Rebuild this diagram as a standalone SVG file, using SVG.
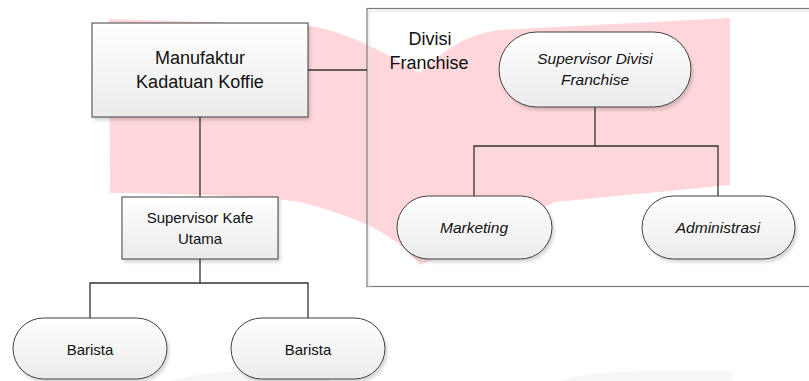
<svg xmlns="http://www.w3.org/2000/svg" width="809" height="381" viewBox="0 0 809 381">
<defs>
<linearGradient id="g" x1="0" y1="0" x2="0" y2="1">
<stop offset="0" stop-color="#ffffff"/>
<stop offset="1" stop-color="#ebebeb"/>
</linearGradient>
<filter id="sh" x="-10%" y="-10%" width="130%" height="140%">
<feDropShadow dx="2" dy="3" stdDeviation="1.5" flood-color="#000" flood-opacity="0.15"/>
</filter>
</defs>
<style>
.node{fill:url(#g);stroke:#3f3f3f;stroke-width:1;filter:url(#sh)}
.t{font-family:"Liberation Sans",Arial,sans-serif;fill:#111;text-anchor:middle}
.big{font-size:18px}
.sm{font-size:15px}
.it{font-size:15.5px;font-style:italic}
.c{stroke:#333;stroke-width:1.3;fill:none}
</style>
<rect width="809" height="381" fill="#fff"/>
<path d="M170,381 C200,372 240,370 300,370 L330,370 L330,381 Z" fill="#f6f6f6"/>
<path d="M560,381 C585,373 620,371 660,371 L732,371 L732,381 Z" fill="#f6f6f6"/>
<path id="watermark" d="M109,19 L300,25 C340,28 380,50 420,73 C440,55 460,35 500,30 L730,18 L730,185 L555,202 L420,265 C400,240 370,220 300,202 C250,195 150,193 110,193 Z" fill="#ffd7da"/>
<g id="divisi-franchise">
<rect x="367" y="8.5" width="460" height="278" fill="none" stroke="#7a7a7a" stroke-width="1.2"/>
<path d="M369,288 V11 H809" fill="none" stroke="#e2e2e2" stroke-width="1"/>
<text class="t big" x="430" y="45">Divisi</text>
<text class="t big" x="429" y="69">Franchise</text>
</g>
<g id="connectors">
<path class="c" d="M308,70 H367"/>
<path class="c" d="M200,117 V197"/>
<path class="c" d="M200,259 V283 M90,318 V283 H308 V318"/>
<path class="c" d="M595,107 V146 M474,196 V146 H718 V196"/>
</g>
<g id="manufaktur">
<rect class="node" x="92" y="23" width="216" height="94"/>
<text class="t big" x="200" y="64">Manufaktur</text>
<text class="t big" x="200" y="88">Kadatuan Koffie</text>
</g>
<g id="supervisor-kafe">
<rect class="node" x="122" y="197" width="156" height="62"/>
<text class="t sm" x="200" y="223">Supervisor Kafe</text>
<text class="t sm" x="200" y="244">Utama</text>
</g>
<g id="supervisor-divisi">
<rect class="node" x="499" y="32" width="192" height="75" rx="37.5"/>
<text class="t it" x="595" y="64">Supervisor Divisi</text>
<text class="t it" x="595" y="85">Franchise</text>
</g>
<g id="marketing">
<rect class="node" x="397" y="196" width="155" height="63" rx="31.5"/>
<text class="t it" x="474" y="233">Marketing</text>
</g>
<g id="administrasi">
<rect class="node" x="642" y="196" width="153" height="63" rx="31.5"/>
<text class="t it" x="718" y="233">Administrasi</text>
</g>
<g id="barista-1">
<rect class="node" x="13" y="318" width="154" height="61" rx="30.5"/>
<text class="t sm" x="90" y="355">Barista</text>
</g>
<g id="barista-2">
<rect class="node" x="231" y="318" width="154" height="61" rx="30.5"/>
<text class="t sm" x="308" y="355">Barista</text>
</g>
</svg>
